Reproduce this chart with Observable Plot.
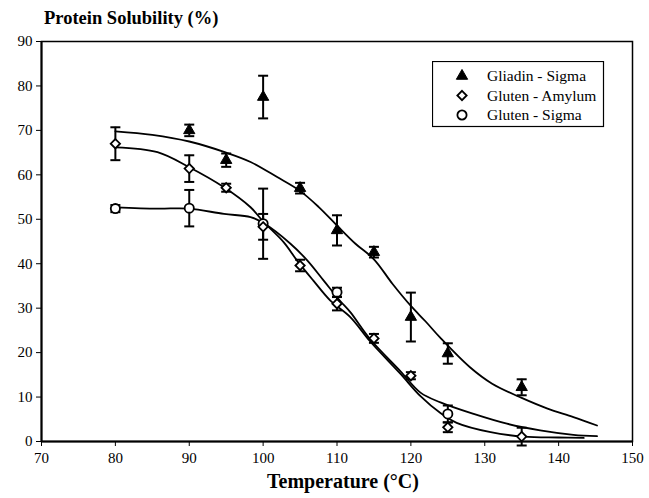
<!DOCTYPE html>
<html>
<head>
<meta charset="utf-8">
<script src="https://cdn.jsdelivr.net/npm/d3@7"></script>
<script src="https://cdn.jsdelivr.net/npm/@observablehq/plot@0.6"></script>
<style>
  html, body { margin: 0; padding: 0; background: #fff; }
  #wrap { position: relative; width: 649px; height: 498px; font-family: "Liberation Serif", "Times New Roman", Times, Tinos, "DejaVu Serif", "Noto Serif", FreeSerif, Georgia, serif; }
  #title { position: absolute; left: 44px; top: 8px; font-weight: bold; font-size: 18.5px; }
  #xlabel { position: absolute; left: 0; width: 686px; text-align: center; top: 470px; font-weight: bold; font-size: 20px; }
  #legend { position: absolute; left: 432px; top: 61px; }
</style>
</head>
<body>
<div id="wrap">
  <div id="chart"></div>
  <div id="title">Protein Solubility (%)</div>
  <div id="xlabel">Temperature (°C)</div>
  <div id="legend"></div>
</div>
<script>
// ---- data ----
const seriesNames = ["Gliadin - Sigma", "Gluten - Amylum", "Gluten - Sigma"];
const xTicks = [70, 80, 90, 100, 110, 120, 130, 140, 150];
const yTicks = [0, 10, 20, 30, 40, 50, 60, 70, 80, 90];

// measured points
const gliadinT = [90, 95, 100, 105, 110, 115, 120, 125, 135];
const gliadinY = [70, 63.3, 77.5, 57, 47.5, 42.6, 28, 19.8, 12.2];
const gliadinErr = [1.3, 1.5, 4.8, 1.2, 3.4, 1.2, 5.5, 2.3, 1.8];

const amylumT = [80, 90, 95, 100, 105, 110, 115, 120, 125, 135];
const amylumY = [67, 61.4, 57.1, 48.3, 39.6, 31, 23.2, 14.8, 3.2, 1.1];
const amylumErr = [3.7, 3, 0.9, 2.9, 1.3, 1.5, 1, 0.8, 1.1, 2];

const sigmaT = [80, 90, 100, 110, 125];
const sigmaY = [52.4, 52.5, 49, 33.6, 6.2];
const sigmaErr = [0.8, 4.1, 7.9, 1, 1.9];

// fitted curves
const gliadinCurveT = [80, 85, 90, 95, 98.3, 101.9, 104.9, 107.5, 110, 112.5, 115, 117.5, 120, 122, 124, 128, 131, 135, 138.5, 142, 145.2];
const gliadinCurveY = [69.8, 69.0, 67.5, 65.0, 62.9, 59.5, 56.5, 52.8, 48.6, 44.5, 41.0, 35.5, 30.5, 27, 23.3, 16.7, 13, 9.8, 7.4, 5.5, 3.6];

const amylumCurveT = [80, 85.7, 90, 94.7, 98.3, 100, 102.8, 104.6, 106.8, 109.1, 111.8, 114.5, 118.6, 121.3, 124, 126.2, 130.8, 135.3, 140, 143.4];
const amylumCurveY = [66.2, 65.1, 61.7, 57.2, 52.7, 49.5, 44.8, 40.7, 36.2, 31.7, 28, 22.5, 15.2, 10.2, 6.4, 4.2, 2.1, 1.1, 0.9, 0.8];

const sigmaCurveT = [80, 85.7, 90, 94.7, 98.3, 100, 103.7, 106, 108.2, 110.5, 111.8, 114.5, 118.6, 121.3, 124, 128.5, 133, 137.5, 142, 145.2];
const sigmaCurveY = [52.7, 52.4, 52.4, 51.2, 50.5, 49.2, 44.5, 40.7, 36.2, 31.5, 29.1, 23, 15.8, 11, 8.8, 6.2, 4, 2.5, 1.5, 1.2];

// ---- tables ----
function pts(name, T, Y, E) { return T.map((t, i) => ({series: name, t, y: Y[i], e: E[i]})); }
function crv(name, T, Y) { return T.map((t, i) => ({series: name, t, y: Y[i]})); }

const gliadinPts = pts(seriesNames[0], gliadinT, gliadinY, gliadinErr);
const amylumPts = pts(seriesNames[1], amylumT, amylumY, amylumErr);
const sigmaPts = pts(seriesNames[2], sigmaT, sigmaY, sigmaErr);
const allPts = [...gliadinPts, ...amylumPts, ...sigmaPts];
const caps = allPts.flatMap(d => [{t: d.t, y: d.y + d.e}, {t: d.t, y: d.y - d.e}]);
const curves = [
  ...crv(seriesNames[0], gliadinCurveT, gliadinCurveY),
  ...crv(seriesNames[1], amylumCurveT, amylumCurveY),
  ...crv(seriesNames[2], sigmaCurveT, sigmaCurveY)
];

const capSymbol = { draw(ctx, size) { const w = Math.sqrt(size / Math.PI); ctx.moveTo(-w, 0); ctx.lineTo(w, 0); } };
const serif = '"Liberation Serif", "Times New Roman", Times, Tinos, "DejaVu Serif", "Noto Serif", FreeSerif, Georgia, serif';

const chart = Plot.plot({
  width: 649, height: 498,
  marginLeft: 41, marginRight: 17, marginTop: 41, marginBottom: 57,
  x: {domain: [70, 150]},
  y: {domain: [0, 90]},
  style: {fontFamily: serif, fontSize: "15px", color: "black", background: "white"},
  marks: [
    Plot.frame({stroke: "black", strokeWidth: 1.5}),
    Plot.axisX({ticks: xTicks, tickSize: 5, tickPadding: 6, label: null, tickFormat: d => d, fontSize: 15}),
    Plot.axisY({ticks: yTicks, tickSize: 5, tickPadding: 4, label: null, tickFormat: d => d, fontSize: 15}),
    Plot.ruleX([0], {x: 70, stroke: "black", strokeWidth: 2}),
    Plot.ruleY([0], {stroke: "black", strokeWidth: 2}),
    Plot.ruleX(allPts, {x: "t", y1: d => d.y - d.e, y2: d => d.y + d.e, stroke: "black", strokeWidth: 2}),
    Plot.dot(caps, {x: "t", y: "y", symbol: capSymbol, r: 5, stroke: "black", strokeWidth: 2}),
    Plot.line(curves, {x: "t", y: "y", z: "series", curve: "catmull-rom", stroke: "black", strokeWidth: 1.8}),
    Plot.dot(sigmaPts, {x: "t", y: "y", symbol: "circle", r: 4.6, fill: "white", stroke: "black", strokeWidth: 1.8}),
    Plot.dot(amylumPts, {x: "t", y: "y", symbol: "diamond2", r: 4.2, fill: "white", stroke: "black", strokeWidth: 1.8}),
    Plot.dot(gliadinPts, {x: "t", y: "y", symbol: "triangle", r: 4.2, fill: "black", stroke: "black", strokeWidth: 1})
  ]
});
document.getElementById("chart").appendChild(chart);

// ---- legend ----
const lw = 171, lh = 65;
const leg = d3.create("svg").attr("width", lw + 2).attr("height", lh + 2);
leg.append("rect").attr("x", 0.5).attr("y", 0.5).attr("width", lw).attr("height", lh)
  .attr("fill", "white").attr("stroke", "black").attr("stroke-width", 1.2);
const legSyms = [
  {type: d3.symbolTriangle, r: 4.2, fill: "black", sw: 1},
  {type: d3.symbolDiamond2, r: 4.2, fill: "white", sw: 1.8},
  {type: d3.symbolCircle, r: 4.6, fill: "white", sw: 1.8}
];
seriesNames.forEach((name, i) => {
  const yy = 15 + i * 19.5;
  const s = legSyms[i];
  leg.append("path").attr("transform", `translate(30,${yy})`)
    .attr("d", d3.symbol(s.type, s.r * s.r * Math.PI)())
    .attr("fill", s.fill).attr("stroke", "black").attr("stroke-width", s.sw);
  leg.append("text").attr("x", 55).attr("y", yy).attr("dy", "0.35em")
    .attr("font-family", serif).attr("font-size", 15.5)
    .text(name);
});
document.getElementById("legend").appendChild(leg.node());
</script>
</body>
</html>
